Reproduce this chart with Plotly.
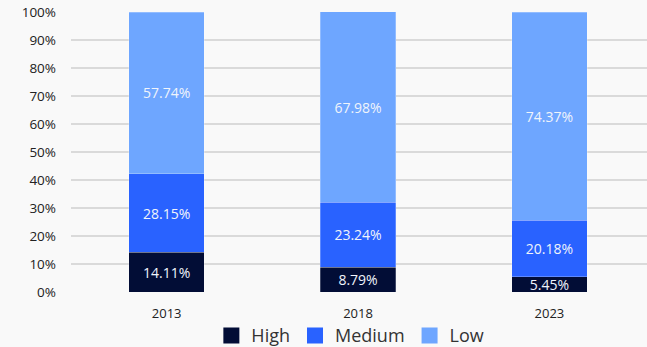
import plotly.graph_objects as go

years = ["2013", "2018", "2023"]
high = [14.11, 8.79, 5.45]
medium = [28.15, 23.24, 20.18]
low = [57.74, 67.98, 74.37]
series_names = ["High", "Medium", "Low"]
colors = ["#020d36", "#2962ff", "#6ea6ff"]
y_ticks = [0, 10, 20, 30, 40, 50, 60, 70, 80, 90, 100]

fig = go.Figure()
for name, vals, col in zip(series_names, [high, medium, low], colors):
    fig.add_trace(go.Bar(
        x=years, y=vals, name=name, showlegend=False,
        marker=dict(color=col, line=dict(color="rgba(255,255,255,0.5)", width=0.5)),
        text=[f"{v:.2f}%" for v in vals],
        textposition="inside", insidetextanchor="middle",
        constraintext="none",
        textfont=dict(color="#f0f4fb", size=14, family="Open Sans"),
        width=0.395,
    ))
# legend entries with large square swatches
for name, col in zip(series_names, colors):
    fig.add_trace(go.Scatter(
        x=[None], y=[None], mode="markers", name=name,
        marker=dict(symbol="square", size=19, color=col),
    ))

fig.update_layout(
    barmode="stack",
    width=647, height=347,
    margin=dict(l=71, r=0, t=12, b=55, autoexpand=False),
    paper_bgcolor="#f9f9f9", plot_bgcolor="#f9f9f9",
    font=dict(family="Open Sans", color="#222222"),
    showlegend=True,
    legend=dict(orientation="h", x=0.485, xanchor="center", y=-0.09, yanchor="top",
                font=dict(size=18, color="#333333"), traceorder="normal",
                itemwidth=30, bgcolor="rgba(0,0,0,0)"),
    xaxis=dict(range=[-0.5, 2.51], tickfont=dict(size=13, color="#222222"),
               showgrid=False, zeroline=False, showline=False, ticks="",
               ticklabelstandoff=12),
    yaxis=dict(range=[0, 100], tickvals=y_ticks,
               ticktext=[f"{t}%" for t in y_ticks],
               tickfont=dict(size=13.5, color="#222222"),
               showgrid=True, gridcolor="#dadada", gridwidth=1.5,
               zeroline=False, showline=False, ticks="", ticklabelstandoff=14),
    bargap=0.6,
)

fig.write_html("out.html")
